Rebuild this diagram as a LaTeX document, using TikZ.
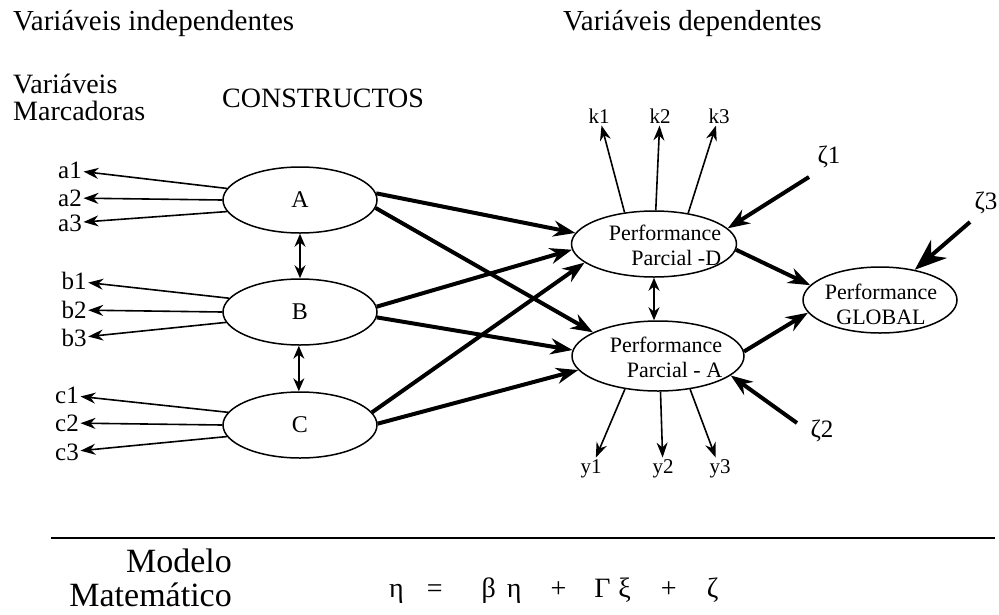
\documentclass[tikz,border=0pt]{standalone}
\usepackage{fontspec}
\setmainfont{Liberation Serif}
\usetikzlibrary{arrows.meta,shapes.geometric}
\tikzset{
  ell/.style={draw, ellipse, line width=1.5pt, inner sep=0pt},
  cons/.style={ell, minimum width=154pt, minimum height=66pt, font=\fontsize{24}{24}\selectfont},
  lbl/.style={font=\fontsize{25}{28}\selectfont, inner sep=1.5pt},
  klbl/.style={font=\fontsize{21}{24}\selectfont, inner sep=2pt},
  perf/.style={font=\fontsize{22}{25}\selectfont, inner sep=0pt},
  ttl/.style={font=\fontsize{29}{29}\selectfont, inner sep=0pt, anchor=west},
  thinarr/.style={line width=1.6pt, -{Stealth[length=15pt,width=11pt]}},
  thickarr/.style={line width=4pt, -{Stealth[length=22pt,width=16pt]}},
  dblarr/.style={line width=1.6pt, {Stealth[length=13pt,width=11pt]}-{Stealth[length=13pt,width=11pt]}},
  bigarr/.style={line width=4pt, -{Stealth[length=32pt,width=24pt]}},
  bottomtxt/.style={font=\fontsize{34}{36}\selectfont, anchor=base east, inner sep=0pt}
}
\begin{document}
\begin{tikzpicture}[x=1pt,y=-1pt]
\useasboundingbox[fill=white] (0,0) rectangle (999,614);
% titles
\node[ttl] (t1) at (13,24) {Variáveis independentes};
\node[ttl] (t2) at (563,24) {Variáveis dependentes};
\node[ttl, font=\fontsize{28}{28}\selectfont] (t3) at (13,84) {Variáveis};
\node[ttl, font=\fontsize{28}{28}\selectfont] (t4) at (13,111) {Marcadoras};
\node[ttl, font=\fontsize{28}{28}\selectfont] (t5) at (222,98) {CONSTRUCTOS};
% constructs
\node[cons] (A) at (300,200) {A};
\node[cons] (B) at (300,312) {B};
\node[cons] (C) at (300,425) {C};
% dependent
\node[ell, minimum width=165pt, minimum height=66pt] (D) at (654,244) {};
\node[perf, align=right] (Dt) at (665,245) {Performance\\Parcial -D};
\node[ell, minimum width=172pt, minimum height=70pt] (P) at (658,356) {};
\node[perf, align=right] (Pt) at (666,357) {Performance\\Parcial - A};
\node[ell, minimum width=154pt, minimum height=66pt] (G) at (880,300) {};
\node[perf, align=center] (Gt) at (881,304) {Performance\\GLOBAL};
% indicators
\node[lbl] (a1) at (70,170) {a1};
\node[lbl] (a2) at (70,198) {a2};
\node[lbl] (a3) at (70,223) {a3};
\node[lbl] (b1) at (74,281) {b1};
\node[lbl] (b2) at (74,310) {b2};
\node[lbl] (b3) at (74,338) {b3};
\node[lbl] (c1) at (67,395) {c1};
\node[lbl] (c2) at (67,423) {c2};
\node[lbl] (c3) at (67,452) {c3};
\node[klbl] (k1) at (599,116) {k1};
\node[klbl] (k2) at (660,116) {k2};
\node[klbl] (k3) at (719,116) {k3};
\node[klbl] (y1) at (591,469) {y1};
\node[klbl] (y2) at (663,469) {y2};
\node[klbl] (y3) at (720,469) {y3};
\node[lbl] (z1) at (829,157) {ζ1};
\node[lbl] (z2) at (822,431) {ζ2};
\node[lbl] (z3) at (986,203) {ζ3};
\coordinate (z1t) at (809,177);
\coordinate (z2t) at (797,423);
\coordinate (z3t) at (970,222);
% indicator arrows
\draw[thinarr] (A.171) -- (a1);
\draw[thinarr] (A.180) -- (a2);
\draw[thinarr] (A.189) -- (a3);
\draw[thinarr] (B.169) -- (b1);
\draw[thinarr] (B.180) -- (b2);
\draw[thinarr] (B.188) -- (b3);
\draw[thinarr] (C.170) -- (c1);
\draw[thinarr] (C.180) -- (c2);
\draw[thinarr] (C.189) -- (c3);
\draw[thinarr] (D.133) -- (k1);
\draw[thinarr] (D.87) -- (k2);
\draw[thinarr] (D.42) -- (k3);
\draw[thinarr] (P.-135) -- (y1);
\draw[thinarr] (P.-86) -- (y2);
\draw[thinarr] (P.-46) -- (y3);
% correlations
\draw[dblarr] (A.south) -- (B.north);
\draw[dblarr] (B.-92) -- (C.-268);
\draw[dblarr] (D.south) -- (D.south |- P.north);
% structural paths
\draw[thickarr] (A.5) -- (D.172);
\draw[thickarr] (A.-6) -- (P.160);
\draw[thickarr] (B.4) -- (D.184);
\draw[thickarr] (B.-4) -- (P.176);
\draw[thickarr] (C.10) -- (D.195);
\draw[thickarr] (C.1) -- (P.190);
\draw[thickarr] (D.-4) -- (G.168);
\draw[thickarr] (P.3) -- (G.190);
\draw[thickarr] (z1t) -- (D.12);
\draw[thickarr] (z2t) -- (P.-15);
\draw[bigarr] (z3t) -- (G.41);
% bottom
\coordinate (l1) at (51,538);
\coordinate (l2) at (995,538);
\draw[line width=1.6pt] (l1) -- (l2);
\node[bottomtxt] (m1) at (232,572) {Modelo};
\node[bottomtxt] (m2) at (232,606) {Matemático};
\node[font=\fontsize{28}{28}\selectfont, anchor=base west, inner sep=0pt] (eq) at (389,597) {η\hspace{23pt}=\hspace{39pt}β\hspace{11pt}η\hspace{29pt}+\hspace{28pt}Γ\hspace{8pt}ξ\hspace{30pt}+\hspace{30pt}ζ};
\end{tikzpicture}
\end{document}
